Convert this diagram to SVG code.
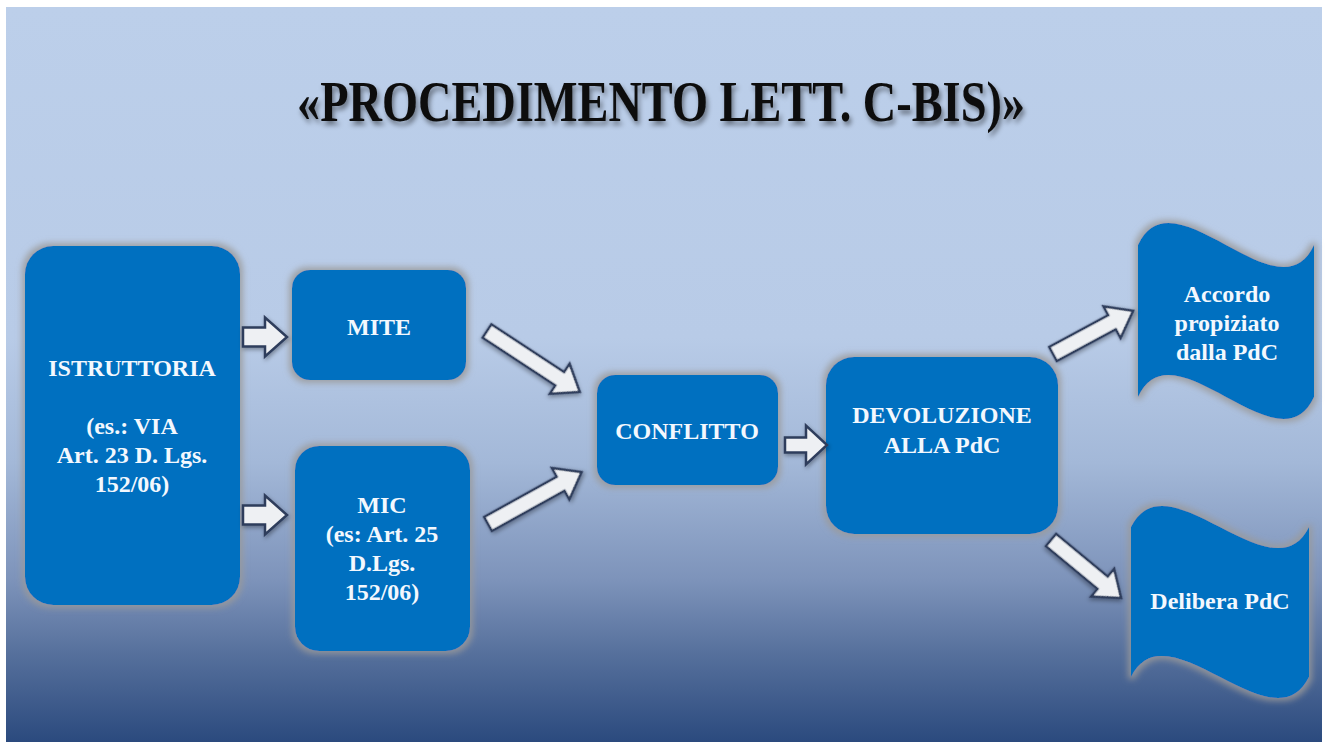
<svg xmlns="http://www.w3.org/2000/svg" width="1327" height="742" viewBox="0 0 1327 742">
<defs>
<linearGradient id="bg" x1="0" y1="0" x2="0" y2="1">
<stop offset="0" stop-color="#bccfea"/>
<stop offset="0.45" stop-color="#b8cbe7"/>
<stop offset="0.62" stop-color="#a3b8d8"/>
<stop offset="0.78" stop-color="#7d93ba"/>
<stop offset="0.88" stop-color="#56709c"/>
<stop offset="1" stop-color="#2b4a7e"/>
</linearGradient>
<filter id="glow" x="-20%" y="-20%" width="140%" height="140%">
<feMorphology in="SourceAlpha" operator="dilate" radius="3" result="d"/>
<feGaussianBlur in="d" stdDeviation="3" result="b"/>
<feFlood flood-color="#9a9a9a" flood-opacity="0.85"/>
<feComposite in2="b" operator="in" result="g"/>
<feMerge><feMergeNode in="g"/><feMergeNode in="SourceGraphic"/></feMerge>
</filter>
<filter id="ash" x="-30%" y="-30%" width="160%" height="160%">
<feGaussianBlur in="SourceAlpha" stdDeviation="2" result="b"/>
<feOffset in="b" dx="1" dy="2" result="o"/>
<feFlood flood-color="#000" flood-opacity="0.35"/>
<feComposite in2="o" operator="in" result="s"/>
<feMerge><feMergeNode in="s"/><feMergeNode in="SourceGraphic"/></feMerge>
</filter>
<filter id="tsh" x="-5%" y="-30%" width="110%" height="160%">
<feGaussianBlur in="SourceAlpha" stdDeviation="2.5" result="b"/>
<feOffset in="b" dx="2" dy="4" result="o"/>
<feFlood flood-color="#000" flood-opacity="0.45"/>
<feComposite in2="o" operator="in" result="s"/>
<feMerge><feMergeNode in="s"/><feMergeNode in="SourceGraphic"/></feMerge>
</filter>
<style>
.box{fill:#0070c0;filter:url(#glow)}
.t{font-family:"Liberation Serif","Times New Roman",serif;font-weight:bold;font-size:24px;fill:#f3f8fe;text-anchor:middle}
.arr{fill:#eef0f3;stroke:#2e3d5c;stroke-width:2.5;stroke-linejoin:miter;filter:url(#ash)}
.title{font-family:"Liberation Serif","Times New Roman",serif;font-weight:bold;font-size:56px;fill:#0d0d0d;text-anchor:middle}
</style>
</defs>
<rect x="0" y="0" width="1327" height="742" fill="#ffffff"/>
<rect x="6" y="7" width="1316" height="735" fill="url(#bg)"/>
<g id="title" filter="url(#tsh)">
<text class="title" x="661" y="121" textLength="728" lengthAdjust="spacingAndGlyphs">«PROCEDIMENTO LETT. C-BIS)»</text>
</g>
<g id="istruttoria">
<rect class="box" x="25" y="246" width="215" height="359" rx="28"/>
<text class="t" x="132" y="376">ISTRUTTORIA</text>
<text class="t" x="132" y="434">(es.: VIA</text>
<text class="t" x="132" y="463">Art. 23 D. Lgs.</text>
<text class="t" x="132" y="492">152/06)</text>
</g>
<g id="mite">
<rect class="box" x="292" y="270" width="174" height="110" rx="18"/>
<text class="t" x="379" y="335">MITE</text>
</g>
<g id="mic">
<rect class="box" x="295" y="446" width="175" height="205" rx="24"/>
<text class="t" x="382" y="513">MIC</text>
<text class="t" x="382" y="542">(es: Art. 25</text>
<text class="t" x="382" y="571">D.Lgs.</text>
<text class="t" x="382" y="600">152/06)</text>
</g>
<g id="conflitto">
<rect class="box" x="597" y="375" width="181" height="110" rx="18"/>
<text class="t" x="687" y="439">CONFLITTO</text>
</g>
<g id="devoluzione">
<rect class="box" x="826" y="357" width="232" height="177" rx="28"/>
<text class="t" x="942" y="423">DEVOLUZIONE</text>
<text class="t" x="942" y="453">ALLA PdC</text>
</g>
<g id="accordo">
<path class="box" d="M1138,245 C1173,169 1279,321 1314,245 L1314,397 C1279,473 1173,321 1138,397 Z"/>
<text class="t" x="1227" y="302">Accordo</text>
<text class="t" x="1227" y="331">propiziato</text>
<text class="t" x="1227" y="360">dalla PdC</text>
</g>
<g id="delibera">
<path class="box" d="M1131,527 C1167,454 1273,600 1309,527 L1309,677 C1273,750 1167,604 1131,677 Z"/>
<text class="t" x="1220" y="609">Delibera PdC</text>
</g>
<g id="connectors">
<polygon class="arr" transform="translate(243,337)" points="0,-9.5 22,-9.5 22,-19.5 44,0 22,19.5 22,9.5 0,9.5"/>
<polygon class="arr" transform="translate(243,515)" points="0,-9.5 22,-9.5 22,-19.5 44,0 22,19.5 22,9.5 0,9.5"/>
<polygon class="arr" transform="translate(487,331) rotate(33.3)" points="0,-8 87,-8 87,-18 111,0 87,18 87,8 0,8"/>
<polygon class="arr" transform="translate(488,524) rotate(-29)" points="0,-8 83,-8 83,-18 107,0 83,18 83,8 0,8"/>
<polygon class="arr" transform="translate(785,445)" points="0,-7.5 21,-7.5 21,-19.5 42,0 21,19.5 21,7.5 0,7.5"/>
<polygon class="arr" transform="translate(1053,354) rotate(-28.3)" points="0,-8 67,-8 67,-18 91,0 67,18 67,8 0,8"/>
<polygon class="arr" transform="translate(1051,540) rotate(39.6)" points="0,-8 67,-8 67,-18 91,0 67,18 67,8 0,8"/>
</g>
</svg>
